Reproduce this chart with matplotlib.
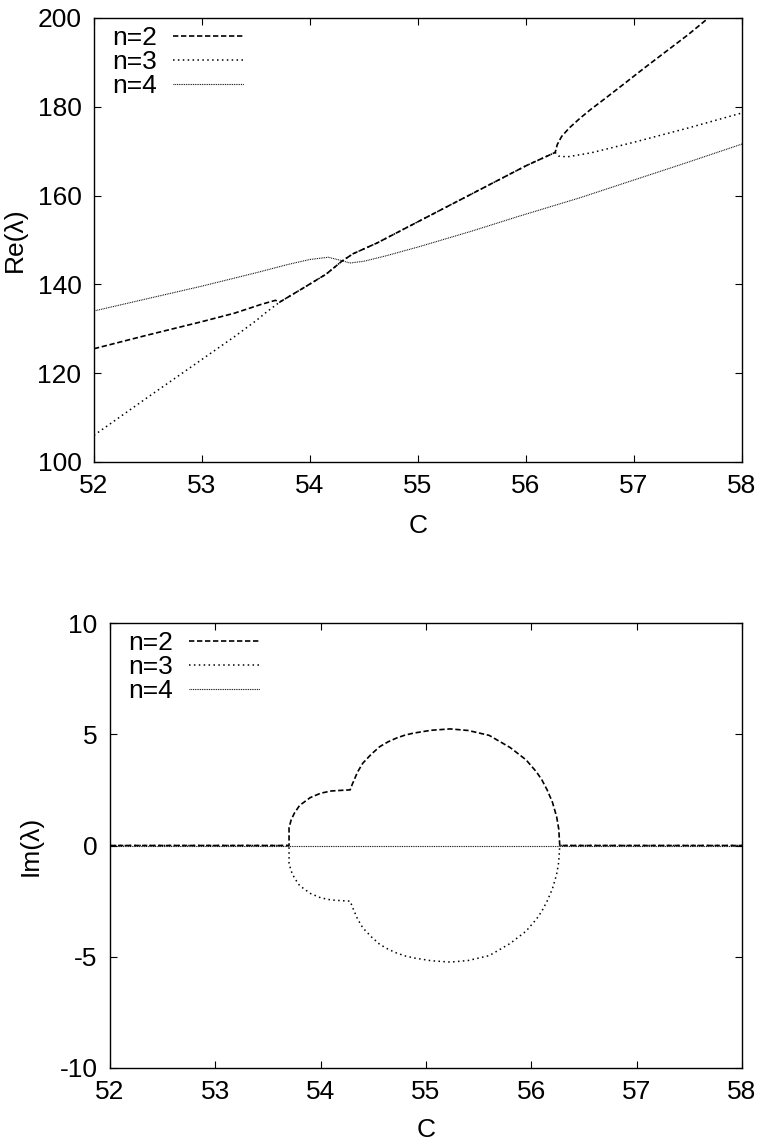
import matplotlib
matplotlib.use("Agg")
import matplotlib.pyplot as plt

plt.rcParams['font.family'] = ['Liberation Sans', 'DejaVu Sans']
plt.rcParams['axes.unicode_minus'] = False

# Re(lambda) curves
c_re2 = [52.0, 52.5, 53.0, 53.3, 53.55, 53.68, 53.72, 53.94, 54.15, 54.3, 54.4, 54.62,
         55.0, 55.5, 56.0, 56.27, 56.29, 56.33, 56.4, 56.5, 56.6, 56.73, 56.9, 57.1,
         57.3, 57.5, 57.69]
re2 = [125.5, 128.6, 131.6, 133.5, 135.5, 136.4, 136.0, 139.2, 142.3, 145.3, 146.9, 149.3,
       154.1, 160.4, 166.7, 169.7, 171.5, 173.3, 175.2, 177.4, 179.4, 181.8, 185.0, 188.8,
       192.5, 196.2, 200.0]

c_re3 = [52.0, 52.5, 53.0, 53.3, 53.5, 53.6, 53.72, 53.94, 54.15, 54.3, 54.4, 54.62,
         55.0, 55.5, 56.0, 56.27, 56.3, 56.38, 56.6, 57.0, 57.5, 58.0]
re3 = [106.0, 114.6, 123.1, 128.2, 131.8, 133.8, 136.0, 139.2, 142.3, 145.3, 146.9, 149.3,
       154.1, 160.4, 166.7, 169.7, 168.9, 168.7, 169.6, 172.0, 175.2, 178.6]

c_re4 = [52.0, 52.5, 53.0, 53.5, 53.8, 54.0, 54.17, 54.3, 54.37, 54.5, 54.7, 55.0,
         55.5, 55.93, 56.5, 57.0, 57.5, 58.0]
re4 = [134.0, 136.8, 139.6, 142.6, 144.5, 145.6, 146.1, 145.3, 144.8, 145.2, 146.4, 148.4,
       152.0, 155.3, 159.5, 163.5, 167.5, 171.6]

# Im(lambda) curves
c_im = [52.0, 53.7, 53.7, 53.72, 53.75, 53.8, 53.9, 54.0, 54.1, 54.2, 54.28, 54.3, 54.35,
        54.4, 54.48, 54.56, 54.64, 54.72, 54.8, 54.88, 55.05, 55.23, 55.4, 55.6, 55.8,
        55.95, 56.05, 56.1, 56.15, 56.2, 56.24, 56.26, 56.27, 58.0]
im2 = [0, 0, 0.8, 1.15, 1.45, 1.8, 2.15, 2.35, 2.45, 2.48, 2.5, 2.75, 3.3,
       3.7, 4.1, 4.44, 4.66, 4.83, 4.96, 5.05, 5.18, 5.24, 5.17, 4.95, 4.4,
       3.85, 3.3, 2.95, 2.5, 1.95, 1.3, 0.75, 0, 0]
im3 = [0, 0, -0.8, -1.15, -1.45, -1.8, -2.15, -2.35, -2.45, -2.48, -2.5, -2.75, -3.3,
       -3.7, -4.1, -4.44, -4.66, -4.83, -4.96, -5.05, -5.18, -5.24, -5.17, -4.95, -4.4,
       -3.85, -3.3, -2.95, -2.5, -1.95, -1.3, -0.75, 0, 0]
c_im4 = [52.0, 58.0]
im4 = [0, 0]

labels = ['n=2', 'n=3', 'n=4']
x_ticks = [52, 53, 54, 55, 56, 57, 58]
re_ticks = [100, 120, 140, 160, 180, 200]
im_ticks = [-10, -5, 0, 5, 10]

st2 = dict(color='black', lw=1.2, dashes=(3.2, 1.6))
st3 = dict(color='black', lw=1.1, dashes=(1.0, 2.2))
st4 = dict(color='black', lw=0.8, dashes=(0.8, 0.8))

fs = 19
fig = plt.figure(figsize=(7.59, 11.48), dpi=100)
ax1 = fig.add_axes([0.1238, 0.5976, 0.8538, 0.3868])
ax2 = fig.add_axes([0.1449, 0.0697, 0.8327, 0.3876])


def style(ax, yt, ylab):
    ax.set_xlim(52, 58)
    ax.set_xticks(x_ticks)
    ax.set_yticks(yt)
    ax.set_ylim(yt[0], yt[-1])
    ax.tick_params(direction='in', length=5, width=0.8, top=True, right=True,
                   labelsize=fs, pad=9)
    for s in ax.spines.values():
        s.set_linewidth(1.0)
    ax.set_xlabel('C', fontsize=fs)
    ax.set_ylabel(ylab, fontsize=fs)


def legend(ax):
    ax.legend(loc='upper left', bbox_to_anchor=(0.022, 0.99), frameon=False,
              markerfirst=False, fontsize=fs, handlelength=2.7, handletextpad=0.6,
              labelspacing=0.0, borderaxespad=0, borderpad=0.15)


ax1.plot(c_re2, re2, label=labels[0], **st2)
ax1.plot(c_re3, re3, label=labels[1], **st3)
ax1.plot(c_re4, re4, label=labels[2], **st4)
style(ax1, re_ticks, 'Re(λ)')
ax1.xaxis.set_label_coords(0.5, -0.118)
ax1.yaxis.set_label_coords(-0.103, 0.5)
legend(ax1)

ax2.plot(c_im, im2, label=labels[0], **st2)
ax2.plot(c_im, im3, label=labels[1], **st3)
ax2.plot(c_im4, im4, label=labels[2], **st4)
style(ax2, im_ticks, 'Im(λ)')
ax2.xaxis.set_label_coords(0.5, -0.113)
ax2.yaxis.set_label_coords(-0.106, 0.5)
legend(ax2)

fig.savefig('out.png', dpi=100)
